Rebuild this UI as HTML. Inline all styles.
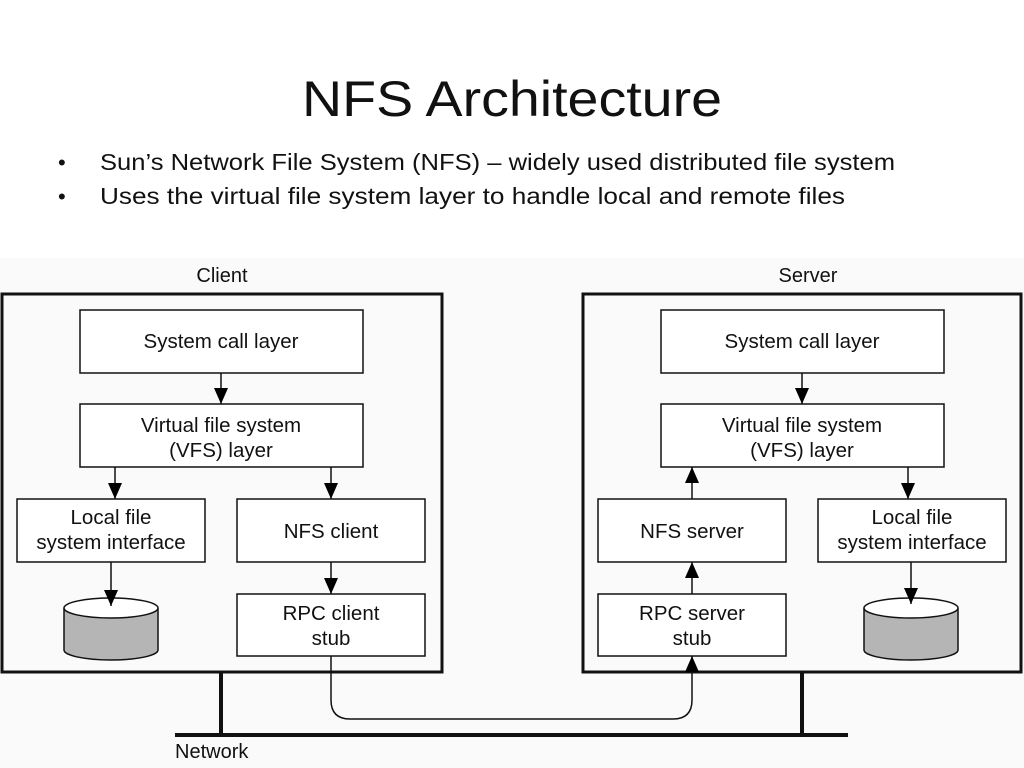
<!DOCTYPE html>
<html><head><meta charset="utf-8"><style>
html,body{margin:0;padding:0;background:#fff;}
svg{display:block;}
text{font-family:"Liberation Sans",sans-serif;fill:#111;}
</style></head><body>
<svg width="1024" height="768" viewBox="0 0 1024 768" xmlns="http://www.w3.org/2000/svg">
<defs>
<marker id="b" viewBox="0 0 16 14" refX="16" refY="7" markerWidth="16" markerHeight="14" markerUnits="userSpaceOnUse" orient="auto">
<path d="M0,0 L16,7 L0,14 z" fill="#000"/></marker>
</defs>
<rect x="0" y="0" width="1024" height="768" fill="#fff"/>
<rect x="0" y="258" width="1024" height="510" fill="#fafafa"/>
<text x="512" y="116" font-size="50" text-anchor="middle" textLength="420" lengthAdjust="spacingAndGlyphs">NFS Architecture</text>
<text x="58" y="170" font-size="22">•</text>
<text x="58" y="204" font-size="22">•</text>
<text x="100" y="170" font-size="23" textLength="795" lengthAdjust="spacingAndGlyphs">Sun’s Network File System (NFS) – widely used distributed file system</text>
<text x="100" y="204" font-size="23" textLength="745" lengthAdjust="spacingAndGlyphs">Uses the virtual file system layer to handle local and remote files</text>

<g font-size="20" text-anchor="middle">
<text x="222" y="282">Client</text>
<text x="808" y="282">Server</text>
</g>
<text x="175" y="758" font-size="20">Network</text>

<g fill="none" stroke="#111">
<rect x="2" y="294" width="440" height="378" stroke-width="3"/>
<rect x="583" y="294" width="438" height="378" stroke-width="3"/>
<line x1="175" y1="735" x2="848" y2="735" stroke-width="4"/>
<line x1="221" y1="672" x2="221" y2="735" stroke-width="4"/>
<line x1="802" y1="672" x2="802" y2="735" stroke-width="4"/>
<g stroke-width="1.5" fill="#fff">
<rect x="80" y="310" width="283" height="63"/>
<rect x="80" y="404" width="283" height="63"/>
<rect x="17" y="499" width="188" height="63"/>
<rect x="237" y="499" width="188" height="63"/>
<rect x="237" y="594" width="188" height="62"/>
<rect x="661" y="310" width="283" height="63"/>
<rect x="661" y="404" width="283" height="63"/>
<rect x="598" y="499" width="188" height="63"/>
<rect x="818" y="499" width="188" height="63"/>
<rect x="598" y="594" width="188" height="62"/>
</g>
<g stroke-width="1.5">
<path d="M64,608 L64,650 A47,10 0 0 0 158,650 L158,608" fill="#b5b5b5"/>
<ellipse cx="111" cy="608" rx="47" ry="10" fill="#fff"/>
<path d="M864,608 L864,650 A47,10 0 0 0 958,650 L958,608" fill="#b5b5b5"/>
<ellipse cx="911" cy="608" rx="47" ry="10" fill="#fff"/>
</g>
<g stroke-width="1.5">
<line x1="221" y1="373" x2="221" y2="404" marker-end="url(#b)"/>
<line x1="115" y1="467" x2="115" y2="499" marker-end="url(#b)"/>
<line x1="331" y1="467" x2="331" y2="499" marker-end="url(#b)"/>
<line x1="111" y1="562" x2="111" y2="606" marker-end="url(#b)"/>
<line x1="331" y1="562" x2="331" y2="594" marker-end="url(#b)"/>
<line x1="802" y1="373" x2="802" y2="404" marker-end="url(#b)"/>
<line x1="908" y1="467" x2="908" y2="499" marker-end="url(#b)"/>
<line x1="911" y1="562" x2="911" y2="604" marker-end="url(#b)"/>
<line x1="692" y1="499" x2="692" y2="467" marker-end="url(#b)"/>
<line x1="692" y1="594" x2="692" y2="562" marker-end="url(#b)"/>
<path d="M331,656 L331,700 Q331,719 350,719 L673,719 Q692,719 692,700 L692,656" marker-end="url(#b)"/>
</g>
</g>

<g font-size="20.5" text-anchor="middle">
<text x="221" y="348">System call layer</text>
<text x="221" y="432">Virtual file system</text>
<text x="221" y="457">(VFS) layer</text>
<text x="111" y="524">Local file</text>
<text x="111" y="549">system interface</text>
<text x="331" y="538">NFS client</text>
<text x="331" y="620">RPC client</text>
<text x="331" y="645">stub</text>
<text x="802" y="348">System call layer</text>
<text x="802" y="432">Virtual file system</text>
<text x="802" y="457">(VFS) layer</text>
<text x="692" y="538">NFS server</text>
<text x="912" y="524">Local file</text>
<text x="912" y="549">system interface</text>
<text x="692" y="620">RPC server</text>
<text x="692" y="645">stub</text>
</g>
</svg>
</body></html>
